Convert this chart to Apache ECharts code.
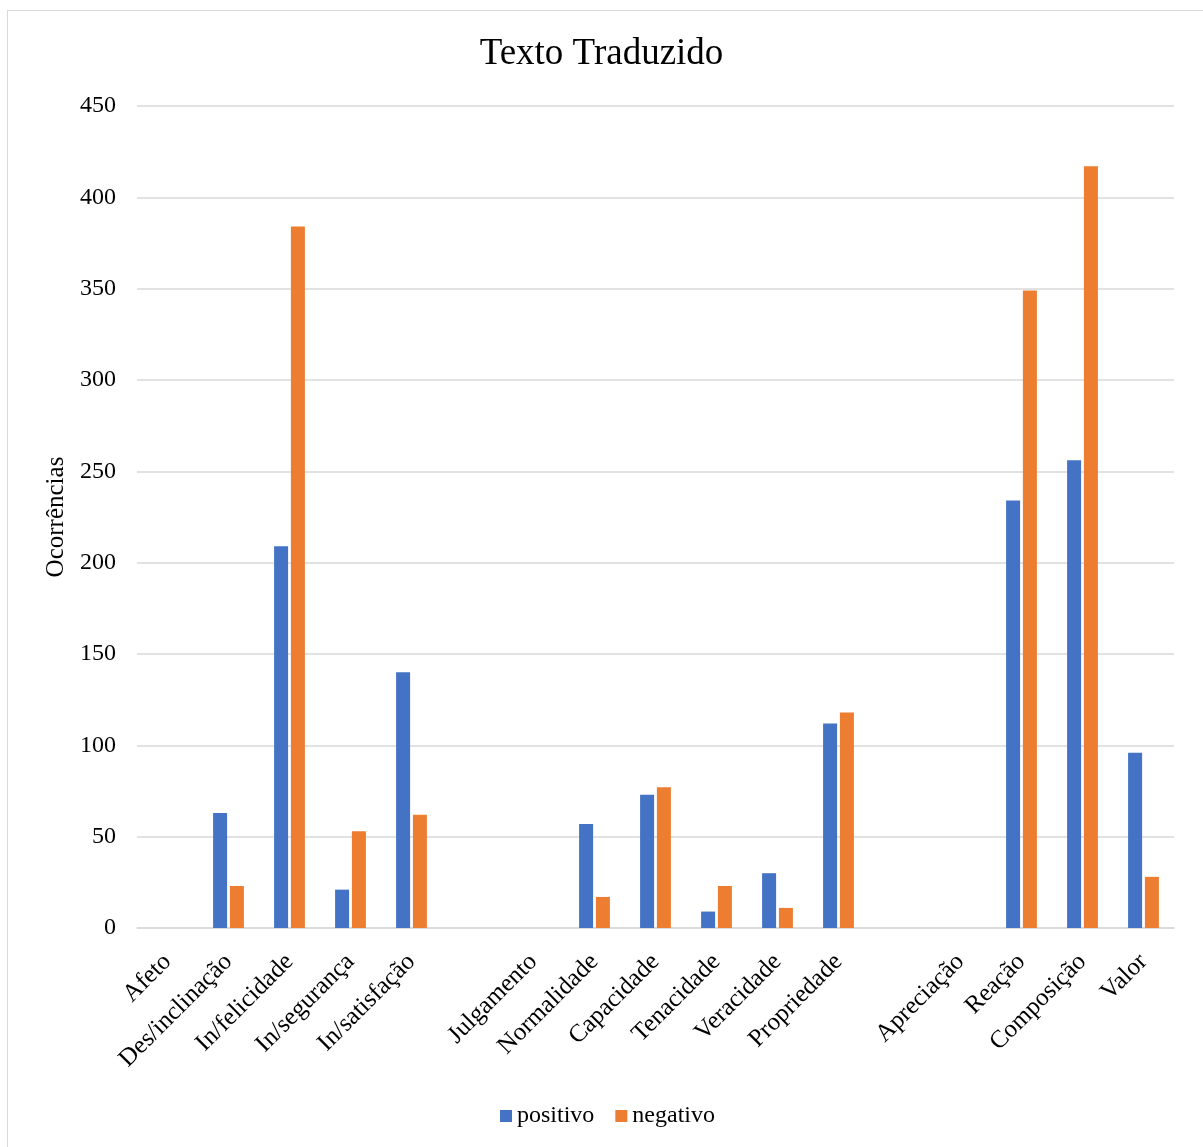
<!DOCTYPE html>
<html>
<head>
<meta charset="utf-8">
<script src="https://cdn.jsdelivr.net/npm/echarts@6/dist/echarts.min.js"></script>
<style>
html,body{margin:0;padding:0;background:#fff;}
#frame{position:absolute;left:7px;top:10px;width:1210px;height:1150px;border:1px solid #d9d9d9;box-sizing:border-box;}
#chart{position:absolute;left:0;top:0;width:1203px;height:1147px;}
</style>
</head>
<body>
<div id="frame"></div>
<div id="chart"></div>
<script>
const categories = ['Afeto','Des/inclinação','In/felicidade','In/segurança','In/satisfação','','Julgamento','Normalidade','Capacidade','Tenacidade','Veracidade','Propriedade','','Apreciação','Reação','Composição','Valor'];
const positivo = [null,63,209,21,140,null,null,57,73,9,30,112,null,null,234,256,96];
const negativo = [null,23,384,53,62,null,null,17,77,23,11,118,null,null,349,417,28];
const yTicks = {min:0, max:450, interval:50};
</script>
<script>
const cats = categories;
const chart = echarts.init(document.getElementById('chart'), null, {renderer:'canvas'});
const font = '"Liberation Serif", "Times New Roman", serif';
chart.setOption({
  animation:false,
  textStyle:{fontFamily:font},
  title:{text:'Texto Traduzido', left:'center', top:31, textStyle:{fontFamily:font, fontSize:37, fontWeight:'normal', color:'#000'}},
  legend:{bottom:14, left:495, itemWidth:12, itemHeight:12, itemGap:21, icon:'rect',
    textStyle:{fontFamily:font, fontSize:24, color:'#000', padding:[0,0,0,0]}},
  grid:{left:137, right:29, top:106, bottom:219},
  xAxis:{type:'category', data:cats,
    axisLine:{lineStyle:{color:'#d9d9d9', width:1.5}}, axisTick:{show:false},
    axisLabel:{interval:0, rotate:45, fontFamily:font, fontSize:25, color:'#000', margin:30}},
  yAxis:{type:'value', min:yTicks.min, max:yTicks.max, interval:yTicks.interval,
    name:'Ocorrências', nameLocation:'middle', nameGap:67, nameRotate:90,
    nameTextStyle:{fontFamily:font, fontSize:25, color:'#000'},
    axisLine:{show:false}, axisTick:{show:false},
    axisLabel:{fontFamily:font, fontSize:24, color:'#000', margin:21},
    splitLine:{lineStyle:{color:'#d9d9d9', width:1.5}}},
  series:[
    {name:'positivo', type:'bar', data:positivo, barWidth:14, barGap:'20%', itemStyle:{color:'#4472C4'}},
    {name:'negativo', type:'bar', data:negativo, barWidth:14, barGap:'20%', itemStyle:{color:'#ED7D31'}}
  ]
});
</script>
</body>
</html>
